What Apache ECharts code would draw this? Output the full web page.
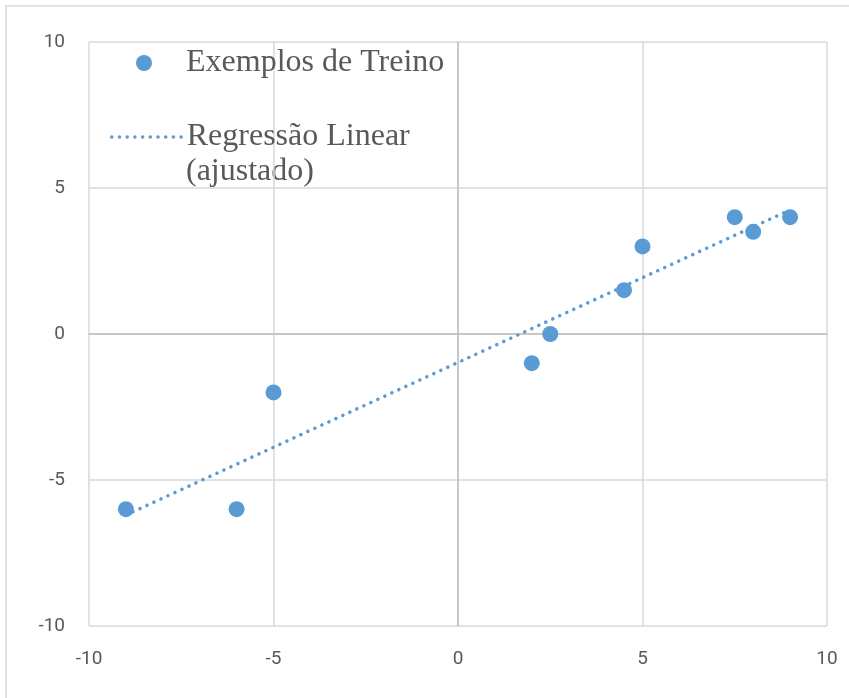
<!DOCTYPE html>
<html>
<head>
<meta charset="utf-8">
<script src="https://cdn.jsdelivr.net/npm/echarts@6/dist/echarts.min.js"></script>
<style>
  html, body { margin: 0; padding: 0; background: #fff; }
  #chart { width: 849px; height: 698px; }
</style>
</head>
<body>
<div id="chart"></div>
<script>
// pontos de treino
const treinoX = [-9, -6, -5, 2, 2.5, 4.5, 5, 7.5, 8, 9];
const treinoY = [-6, -6, -2, -1, 0, 1.5, 3, 4, 3.5, 4];
// reta ajustada (extremos)
const retaX = [-9, 9];
const retaY = [-6.2, 4.25];
const eixoTicks = [-10, -5, 0, 5, 10];

const azul = "#5b9bd5";
const cinza = "#595959";
const serif = "Liberation Serif";

const chart = echarts.init(document.getElementById("chart"));
chart.setOption({
  animation: false,
  grid: { left: 89, right: 22, top: 42, bottom: 72 },
  graphic: [
    {
      type: "rect",
      shape: { x: 6, y: 6, width: 900, height: 800 },
      style: { fill: "none", stroke: "#d9d9d9", lineWidth: 1.5 },
      silent: true
    },
    {
      // segunda linha do nome da série
      type: "text",
      left: 186,
      top: 156,
      style: { text: "(ajustado)", font: "32px " + serif, fill: cinza },
      silent: true
    }
  ],
  legend: [
    {
      data: ["Exemplos de Treino"],
      left: 131,
      top: 42,
      itemWidth: 16,
      itemHeight: 16,
      textStyle: { fontFamily: serif, fontSize: 32, color: cinza, padding: [0, 0, 0, 29] }
    },
    {
      data: ["Regressão Linear (ajustado)"],
      formatter: () => "Regressão Linear",
      left: 105,
      top: 116,
      itemWidth: 70,
      itemHeight: 16,
      itemStyle: { opacity: 0 },
      lineStyle: { color: azul, width: 3.5, opacity: 1 },
      textStyle: { fontFamily: serif, fontSize: 32, color: cinza }
    }
  ],
  xAxis: {
    type: "value",
    min: eixoTicks[0],
    max: eixoTicks[eixoTicks.length - 1],
    interval: 5,
    axisLine: { onZero: true, lineStyle: { color: "#bfbfbf", width: 1.5 } },
    axisTick: { show: false },
    splitLine: { lineStyle: { color: "#d9d9d9", width: 1.5 } },
    axisLabel: {
      margin: 24,
      fontFamily: "Roboto, sans-serif",
      fontSize: 19,
      color: cinza
    }
  },
  yAxis: {
    type: "value",
    min: eixoTicks[0],
    max: eixoTicks[eixoTicks.length - 1],
    interval: 5,
    axisLine: { show: true, onZero: true, lineStyle: { color: "#bfbfbf", width: 1.5 } },
    axisTick: { show: false },
    splitLine: { lineStyle: { color: "#d9d9d9", width: 1.5 } },
    axisLabel: {
      margin: 24,
      fontFamily: "Roboto, sans-serif",
      fontSize: 19,
      color: cinza
    }
  },
  series: [
    {
      name: "Regressão Linear (ajustado)",
      type: "line",
      data: retaX.map((x, i) => [x, retaY[i]]),
      symbol: "none",
      lineStyle: { color: azul, width: 3.5, type: [0.1, 7.6], cap: "round" },
      itemStyle: { color: azul },
      z: 3
    },
    {
      name: "Exemplos de Treino",
      type: "scatter",
      data: treinoX.map((x, i) => [x, treinoY[i]]),
      symbol: "circle",
      symbolSize: 16,
      itemStyle: { color: azul, opacity: 1 },
      z: 4
    }
  ]
});
</script>
</body>
</html>
